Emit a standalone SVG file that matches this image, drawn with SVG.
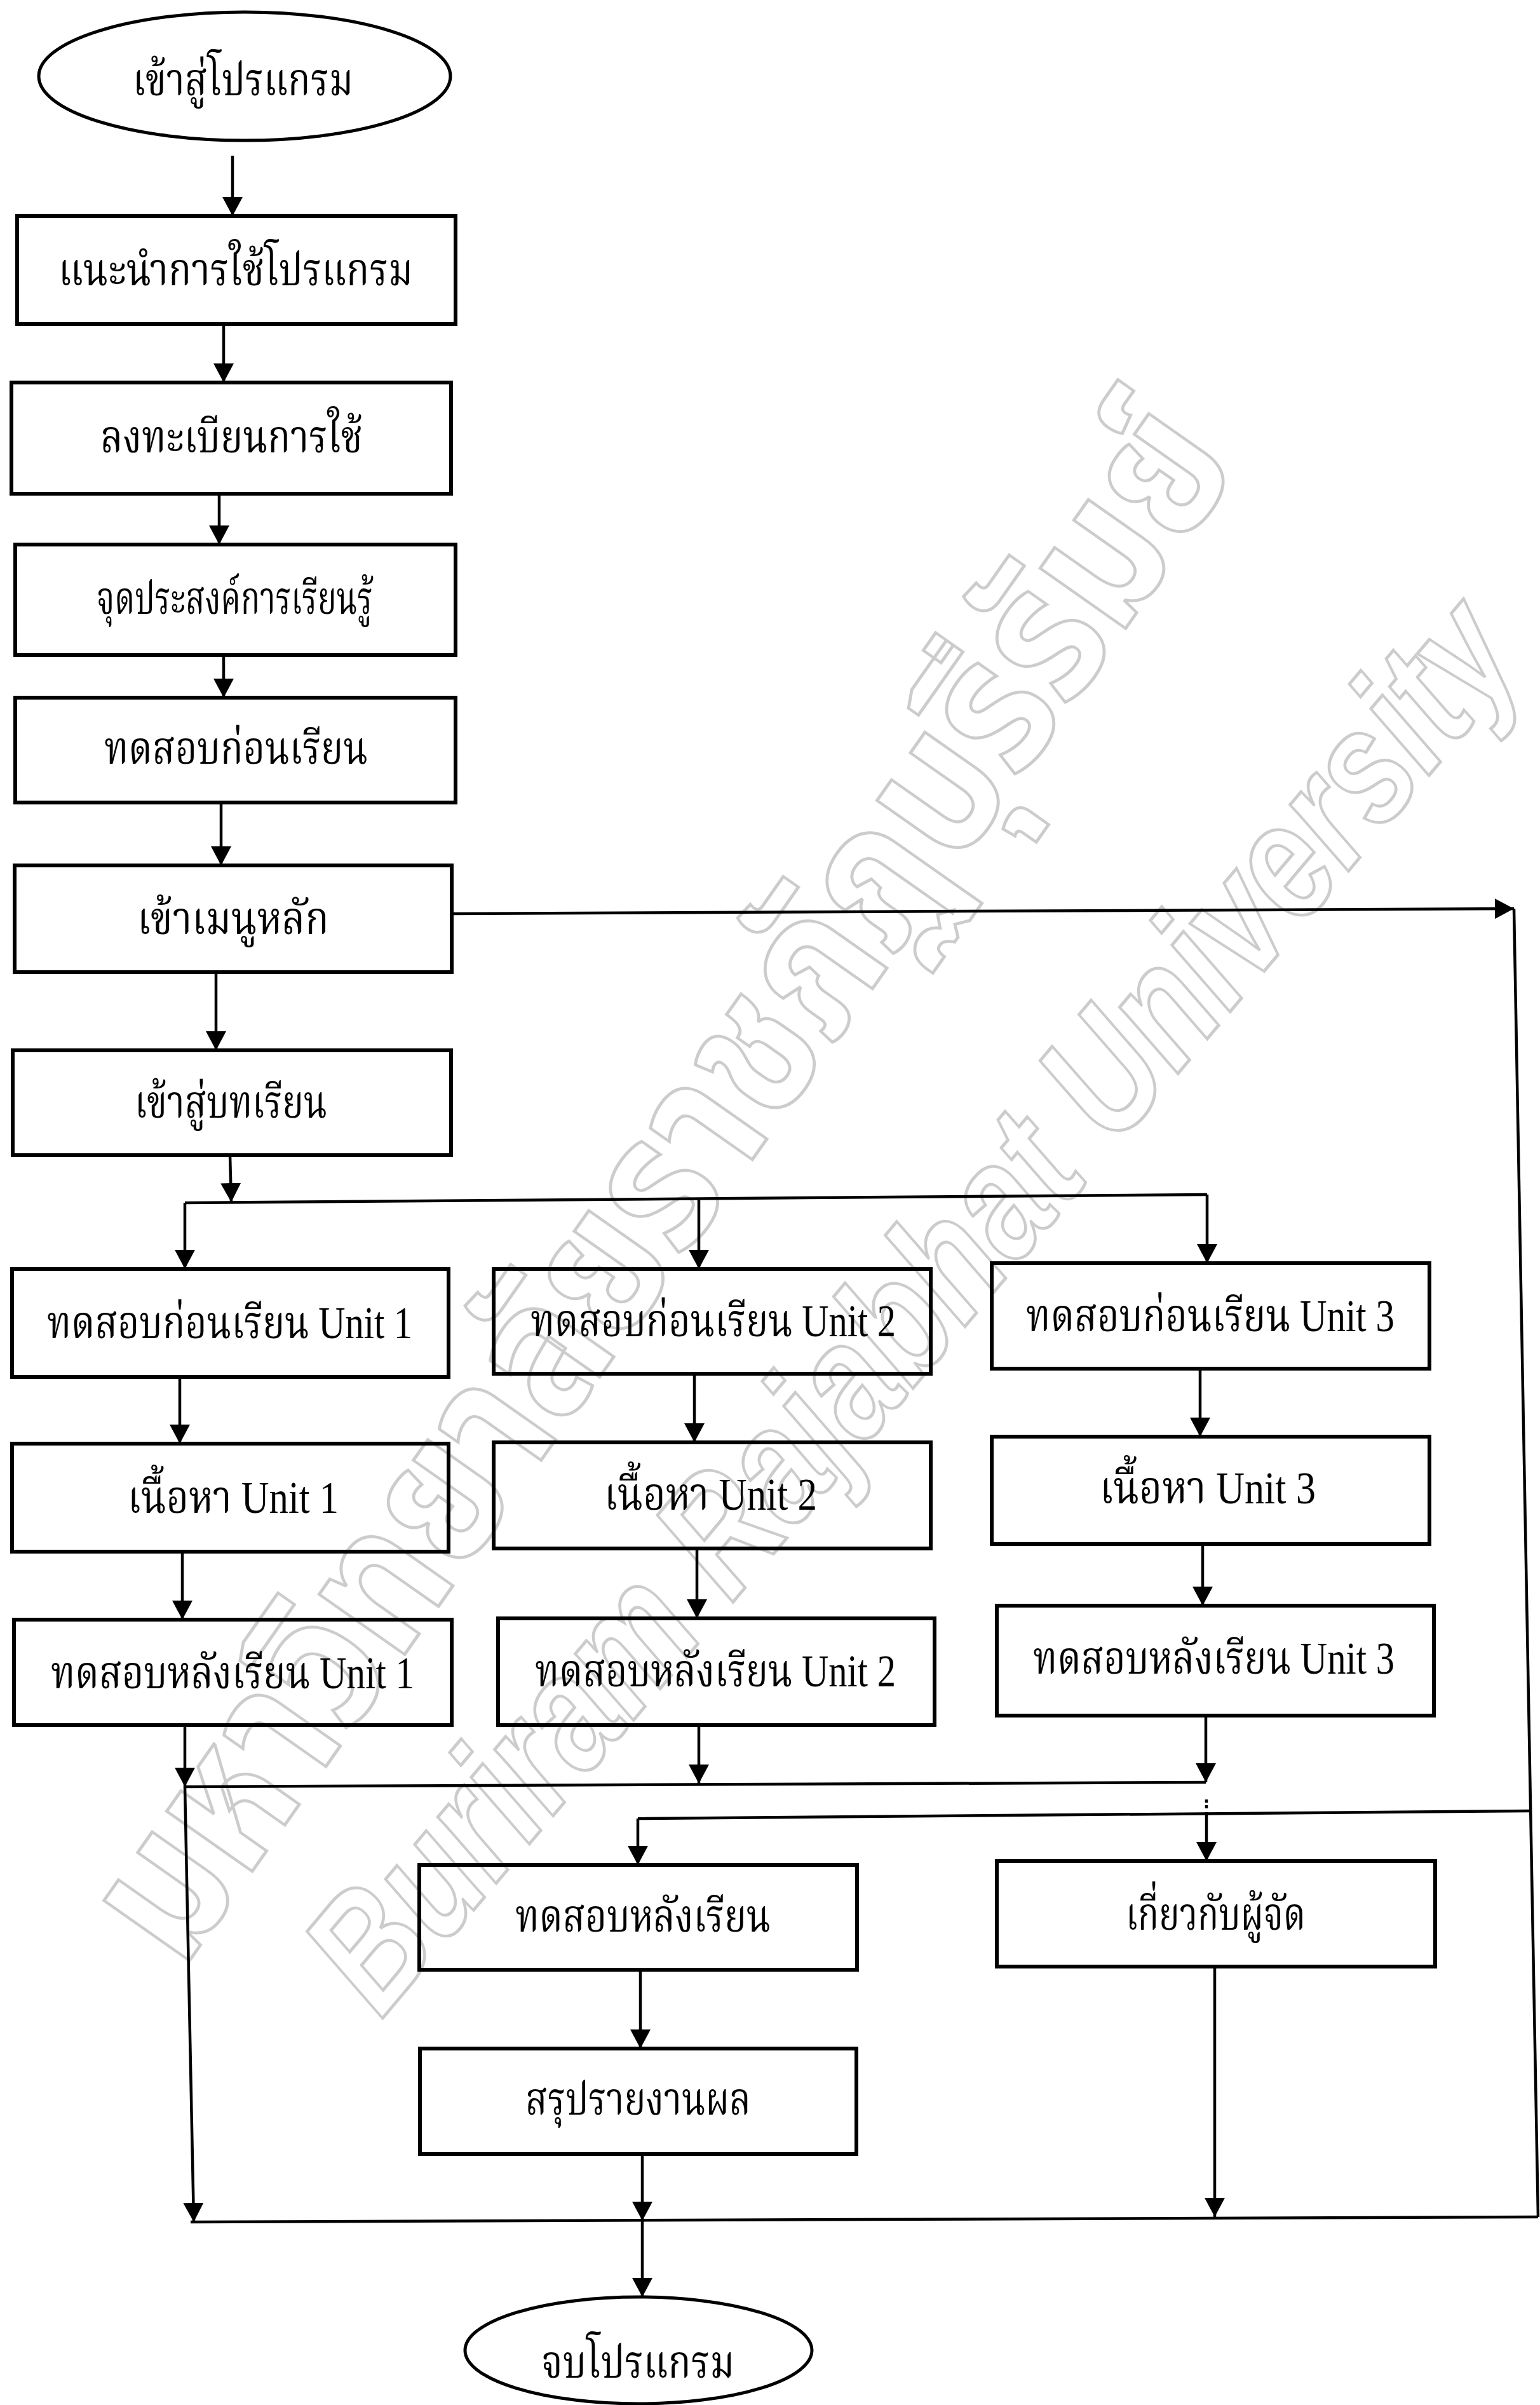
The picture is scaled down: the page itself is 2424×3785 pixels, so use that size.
<svg xmlns="http://www.w3.org/2000/svg" width="2424" height="3785" viewBox="0 0 2424 3785">
<style>
.box{fill:none;stroke:#000;stroke-width:6}
.ell{fill:none;stroke:#000;stroke-width:5}
.ln{fill:none;stroke:#000;stroke-width:4.5}
.arr{fill:none;stroke:#000;stroke-width:4.5;marker-end:url(#ah)}
.t{font-family:"Liberation Serif","Noto Serif Thai","Noto Sans Thai","Noto Sans",serif;font-size:72px;fill:#000}
.wm{font-family:"Liberation Sans","Noto Sans Thai","Noto Sans",sans-serif;font-weight:bold;fill:none;stroke:#cccccc;stroke-width:5}
</style>
<defs>
<marker id="ah" viewBox="0 0 30 32" refX="30" refY="16" markerWidth="30" markerHeight="32" markerUnits="userSpaceOnUse" orient="auto">
<path d="M0,0 L30,16 L0,32 z" fill="#000"/>
</marker>
</defs>
<rect width="2424" height="3785" fill="#fff"/>
<g id="watermark">
<text class="wm" x="1055" y="1871" text-anchor="middle" font-size="300" textLength="2900" lengthAdjust="spacingAndGlyphs" transform="rotate(-54.9 1055 1871)" dominant-baseline="middle">มหาวิทยาลัยราชภัฏบุรีรัมย์</text>
<text class="wm" x="1449" y="2064" text-anchor="middle" font-size="260" font-style="italic" textLength="2800" lengthAdjust="spacingAndGlyphs" transform="rotate(-49.9 1449 2064)" dominant-baseline="middle">Buriram Rajabhat University</text>
</g>
<g id="connectors">
<path class="arr" d="M366,245 L366,340"/>
<path class="arr" d="M352,510 L352,602"/>
<path class="arr" d="M345,777 L345,857"/>
<path class="arr" d="M352,1031 L352,1098"/>
<path class="arr" d="M348,1263 L348,1362"/>
<path class="arr" d="M340,1530 L340,1653"/>
<path class="arr" d="M711,1438 L2383,1430"/>
<path class="ln" d="M2383,1430 L2421,3489"/>
<path class="arr" d="M362,1818 L364,1892"/>
<path class="ln" d="M291,1893 L1900,1880"/>
<path class="arr" d="M291,1893 L291,1997"/>
<path class="arr" d="M1100,1887 L1100,1997"/>
<path class="arr" d="M1900,1880 L1900,1988"/>
<path class="arr" d="M283,2167 L283,2272"/>
<path class="arr" d="M1093,2162 L1093,2270"/>
<path class="arr" d="M1889,2154 L1889,2261"/>
<path class="arr" d="M287,2442 L287,2549"/>
<path class="arr" d="M1097,2437 L1097,2547"/>
<path class="arr" d="M1893,2430 L1893,2527"/>
<path class="arr" d="M291,2715 L291,2812"/>
<path class="arr" d="M291,2812 L305,3497"/>
<path class="arr" d="M1100,2715 L1100,2807"/>
<path class="arr" d="M1898,2700 L1898,2805"/>
<path class="ln" d="M291,2812 L1898,2805"/>
<path class="ln" d="M2409,2850 L1004,2862"/>
<path class="arr" d="M1004,2862 L1004,2935"/>
<path class="ln" d="M1899,2832 L1899,2846" stroke-dasharray="5,4" stroke-width="3"/>
<path class="arr" d="M1899,2852 L1899,2929"/>
<path class="arr" d="M1008,3100 L1008,3224"/>
<path class="arr" d="M1912,3095 L1912,3489"/>
<path class="arr" d="M1011,3390 L1011,3495"/>
<path class="ln" d="M300,3497 L2421,3489"/>
<path class="arr" d="M1011,3495 L1011,3615"/>
</g>
<g id="start"><ellipse class="ell" cx="385" cy="120" rx="324" ry="101"/><text class="t" x="209" y="150" textLength="347" lengthAdjust="spacingAndGlyphs">เข้าสู่โปรแกรม</text></g>
<g id="n1"><rect class="box" x="27" y="340" width="690" height="170"/><text class="t" x="92" y="449" textLength="558" lengthAdjust="spacingAndGlyphs">แนะนำการใช้โปรแกรม</text></g>
<g id="n2"><rect class="box" x="18" y="602" width="692" height="175"/><text class="t" x="158" y="712" textLength="413" lengthAdjust="spacingAndGlyphs">ลงทะเบียนการใช้</text></g>
<g id="n3"><rect class="box" x="24" y="857" width="693" height="174"/><text class="t" x="152" y="966" textLength="435" lengthAdjust="spacingAndGlyphs">จุดประสงค์การเรียนรู้</text></g>
<g id="n4"><rect class="box" x="24" y="1098" width="693" height="165"/><text class="t" x="164" y="1202" textLength="415" lengthAdjust="spacingAndGlyphs">ทดสอบก่อนเรียน</text></g>
<g id="n5"><rect class="box" x="23" y="1362" width="688" height="168"/><text class="t" x="216" y="1470" textLength="302" lengthAdjust="spacingAndGlyphs">เข้าเมนูหลัก</text></g>
<g id="n6"><rect class="box" x="20" y="1653" width="690" height="165"/><text class="t" x="212" y="1759" textLength="303" lengthAdjust="spacingAndGlyphs">เข้าสู่บทเรียน</text></g>
<g id="u1a"><rect class="box" x="19" y="1997" width="687" height="170"/><text class="t" x="74" y="2106" textLength="575" lengthAdjust="spacingAndGlyphs">ทดสอบก่อนเรียน Unit 1</text></g>
<g id="u2a"><rect class="box" x="777" y="1997" width="688" height="165"/><text class="t" x="835" y="2103" textLength="575" lengthAdjust="spacingAndGlyphs">ทดสอบก่อนเรียน Unit 2</text></g>
<g id="u3a"><rect class="box" x="1561" y="1988" width="689" height="166"/><text class="t" x="1615" y="2095" textLength="580" lengthAdjust="spacingAndGlyphs">ทดสอบก่อนเรียน Unit 3</text></g>
<g id="u1b"><rect class="box" x="19" y="2272" width="687" height="170"/><text class="t" x="201" y="2381" textLength="332" lengthAdjust="spacingAndGlyphs">เนื้อหา  Unit 1</text></g>
<g id="u2b"><rect class="box" x="777" y="2270" width="688" height="167"/><text class="t" x="951" y="2376" textLength="335" lengthAdjust="spacingAndGlyphs">เนื้อหา  Unit 2</text></g>
<g id="u3b"><rect class="box" x="1561" y="2261" width="689" height="169"/><text class="t" x="1731" y="2366" textLength="340" lengthAdjust="spacingAndGlyphs">เนื้อหา  Unit 3</text></g>
<g id="u1c"><rect class="box" x="22" y="2549" width="689" height="166"/><text class="t" x="80" y="2657" textLength="572" lengthAdjust="spacingAndGlyphs">ทดสอบหลังเรียน Unit 1</text></g>
<g id="u2c"><rect class="box" x="784" y="2547" width="687" height="168"/><text class="t" x="842" y="2654" textLength="568" lengthAdjust="spacingAndGlyphs">ทดสอบหลังเรียน Unit 2</text></g>
<g id="u3c"><rect class="box" x="1569" y="2527" width="688" height="173"/><text class="t" x="1626" y="2634" textLength="569" lengthAdjust="spacingAndGlyphs">ทดสอบหลังเรียน Unit 3</text></g>
<g id="f1"><rect class="box" x="660" y="2935" width="689" height="165"/><text class="t" x="811" y="3040" textLength="402" lengthAdjust="spacingAndGlyphs">ทดสอบหลังเรียน</text></g>
<g id="f2"><rect class="box" x="1569" y="2929" width="690" height="166"/><text class="t" x="1772" y="3037" textLength="283" lengthAdjust="spacingAndGlyphs">เกี่ยวกับผู้จัด</text></g>
<g id="f3"><rect class="box" x="661" y="3224" width="687" height="166"/><text class="t" x="827" y="3328" textLength="355" lengthAdjust="spacingAndGlyphs">สรุปรายงานผล</text></g>
<g id="end"><ellipse class="ell" cx="1005" cy="3699" rx="273" ry="84"/><text class="t" x="852" y="3742" textLength="304" lengthAdjust="spacingAndGlyphs">จบโปรแกรม</text></g>
</svg>
